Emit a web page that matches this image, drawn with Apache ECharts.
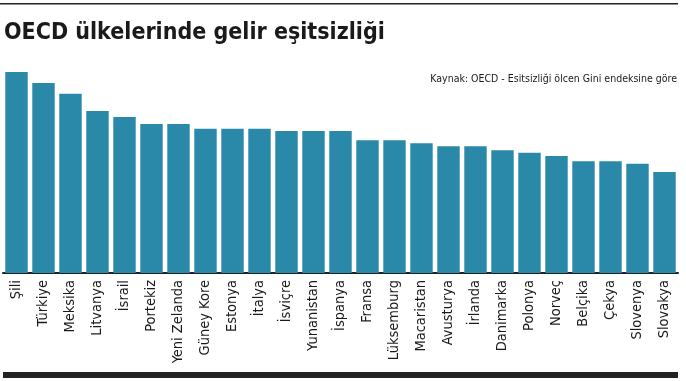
<!DOCTYPE html>
<html>
<head>
<meta charset="utf-8">
<script src="https://cdn.jsdelivr.net/npm/echarts@6/dist/echarts.min.js"></script>
<style>html,body{margin:0;padding:0;background:#fff}#c{width:686px;height:381px}</style>
</head>
<body>
<div id="c"></div>
<script>
const categories = ["Şili","Türkiye","Meksika","Litvanya","İsrail","Portekiz","Yeni Zelanda","Güney Kore","Estonya","İtalya","İsviçre","Yunanistan","İspanya","Fransa","Lüksemburg","Macaristan","Avusturya","İrlanda","Danimarka","Polonya","Norveç","Belçika","Çekya","Slovenya","Slovakya"];
const giniValues = [0.460,0.435,0.410,0.371,0.357,0.341,0.341,0.330,0.330,0.330,0.325,0.325,0.325,0.304,0.304,0.297,0.290,0.290,0.281,0.275,0.268,0.256,0.256,0.250,0.231];
const titleText = "OECD ülkelerinde gelir eşitsizliği";
const sourceText = "Kaynak: OECD - Esitsizliği ölcen Gini endeksine göre";

const condensed = '"DejaVu Sans Condensed",sans-serif';
const chart = echarts.init(document.getElementById('c'), null, {renderer:'canvas'});
chart.setOption({
  animation:false,
  backgroundColor:'#ffffff',
  title:[
    {text:titleText,left:-1,top:17,textStyle:{fontFamily:'"DejaVu Sans Condensed",sans-serif',fontWeight:'bold',fontSize:23,color:'#1a1a1a'}},
    {text:sourceText,right:4,top:69,textStyle:{fontFamily:condensed,fontWeight:'normal',fontSize:10.5,color:'#1a1a1a'}}
  ],
  grid:{left:3,right:8,top:72,bottom:108,containLabel:false},
  xAxis:{type:'category',data:categories,
    axisLine:{show:true,lineStyle:{color:'#222',width:2}},
    axisTick:{show:false},
    axisLabel:{rotate:90,interval:0,margin:7,fontFamily:condensed,fontSize:14.5,color:'#1a1a1a'}},
  yAxis:{type:'value',min:0,max:0.46,show:false,splitLine:{show:false}},
  series:[{type:'bar',data:giniValues,barCategoryGap:'17%',itemStyle:{color:'#2A88A8'}}],
  graphic:[
    {type:'rect',shape:{x:0,y:3,width:678,height:1.5},style:{fill:'#222'}},
    {type:'rect',shape:{x:3,y:372,width:675,height:6},style:{fill:'#222'}}
  ]
});
</script>
</body>
</html>
